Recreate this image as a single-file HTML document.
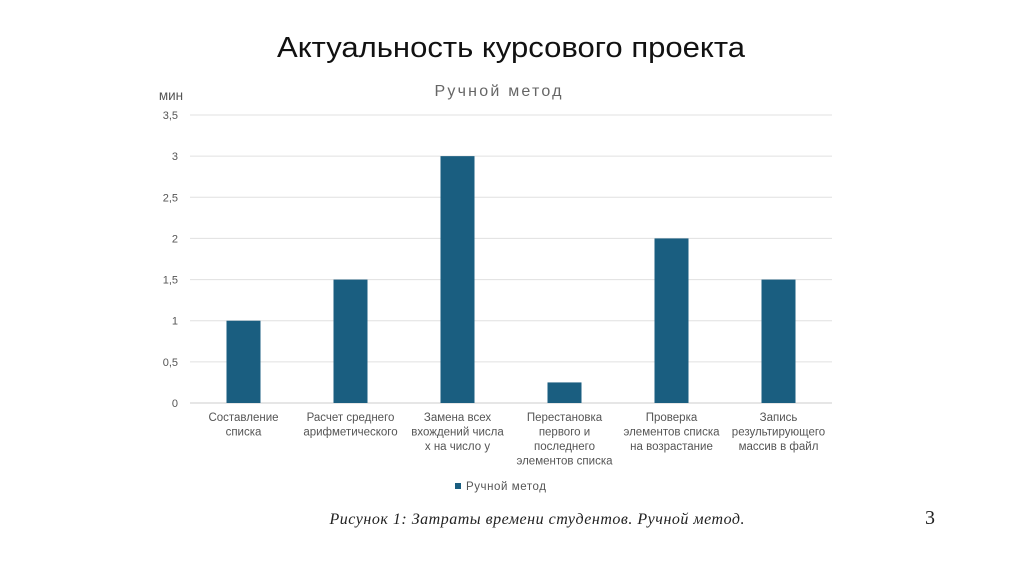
<!DOCTYPE html>
<html><head><meta charset="utf-8"><style>
body{margin:0;background:#fff;width:1024px;height:574px;overflow:hidden;font-family:"Liberation Sans","DejaVu Sans",sans-serif}
</style></head><body>
<svg width="1024" height="574" xmlns="http://www.w3.org/2000/svg">
<text x="511" y="57" text-anchor="middle" font-size="29" fill="#111" textLength="468" lengthAdjust="spacingAndGlyphs">Актуальность курсового проекта</text>
<text x="498" y="96" text-anchor="middle" font-size="16" fill="#666" textLength="127">Ручной метод</text>
<text x="171" y="100" text-anchor="middle" font-size="13.5" fill="#555">мин</text>
<g id="grid"></g>
<g id="bars"></g>
<g id="xl"></g>
<rect x="455" y="483" width="6" height="6" fill="#1a5e80"/>
<text x="466" y="490" font-size="11.5" fill="#555" textLength="80">Ручной метод</text>
<text x="537" y="524" text-anchor="middle" font-size="16" font-style="italic" font-family="Liberation Serif, serif" fill="#222" textLength="415">Рисунок 1: Затраты времени студентов. Ручной метод.</text>
<text x="930" y="524" text-anchor="middle" font-size="20" font-family="Liberation Serif, serif" fill="#222">3</text>
</svg>
<script>
const categories=[["Составление","списка"],["Расчет среднего","арифметического"],["Замена всех","вхождений числа","х на число у"],["Перестановка","первого и","последнего","элементов списка"],["Проверка","элементов списка","на возрастание"],["Запись","результирующего","массив в файл"]];
const values=[1,1.5,3,0.25,2,1.5];
const ticks=[0,0.5,1,1.5,2,2.5,3,3.5];
const tickLabels=["0","0,5","1","1,5","2","2,5","3","3,5"];
const NS="http://www.w3.org/2000/svg";
const x0=190,x1=832,y0=403,yTop=115,maxV=3.5;
const yS=v=>y0-(v/maxV)*(y0-yTop);
const band=(x1-x0)/categories.length;
const xC=i=>x0+band*(i+0.5);
function mk(t,a,p){const e=document.createElementNS(NS,t);for(const k in a)e.setAttribute(k,a[k]);p.appendChild(e);return e;}
const g=document.getElementById('grid');
ticks.forEach((t,i)=>{
 const l=mk('line',{x1:x0,x2:x1,y1:yS(t),y2:yS(t),stroke:i==0?'#ccc':'#e0e0e0','stroke-width':1},g);
 
 
 const tx=mk('text',{x:178,y:yS(t)+4,'text-anchor':'end','font-size':11,fill:'#555'},g);
 tx.textContent=tickLabels[i];
 
 
});
const b=document.getElementById('bars');
values.forEach((v,i)=>{
 const r=mk('rect',{x:xC(i)-17,y:yS(v),width:34,height:y0-yS(v),fill:'#1a5e80'},b);
 
 
});
const xl=document.getElementById('xl');
categories.forEach((c,i)=>{
 const t=mk('text',{x:xC(i),'text-anchor':'middle','font-size':11.5,fill:'#555'},xl);
 
 
 c.forEach((s,j)=>{const ts=mk('tspan',{x:xC(i),y:421+j*14.5},t);ts.textContent=s;});
});
</script>
</body></html>
